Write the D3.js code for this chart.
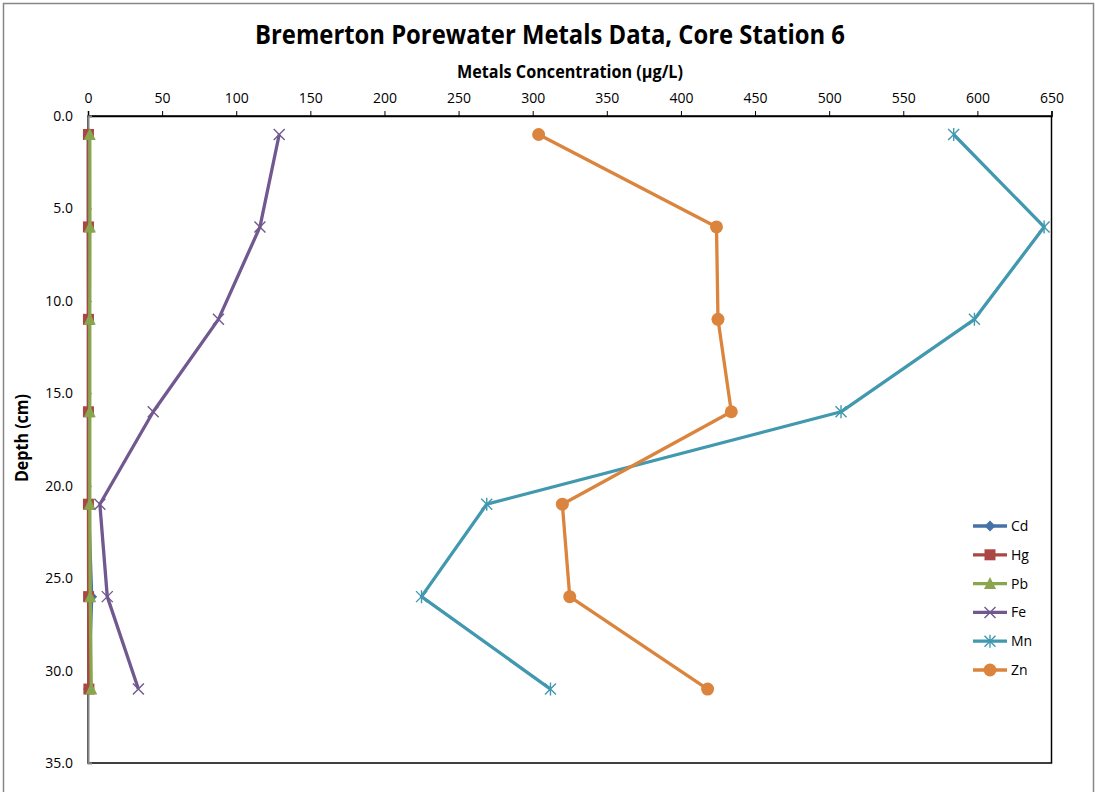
<!DOCTYPE html>
<html>
<head>
<meta charset="utf-8">
<script src="https://cdn.jsdelivr.net/npm/d3@7"></script>
<style>
  body { margin: 0; background: #fff; }
  text { font-family: "Open Sans", "DejaVu Sans", sans-serif; }
</style>
</head>
<body>
<div id="chart"></div>
<script>
// depths (cm) and metal concentrations (ug/L)
const depths = [1, 6, 11, 16, 21, 26, 31];
const cd = [0.2, 0.2, 0.3, 0.3, 0.3, 2.5, 0.4];
const hg = [0.3, 0.3, 0.3, 0.3, 0.3, 0.4, 0.6];
const pb = [1.2, 1.3, 1.2, 1.2, 1.2, 1.5, 2.2];
const fe = [129, 116, 88, 44, 8, 13, 34];
const mn = [584, 645, 598, 508, 269, 225, 312];
const zn = [304, 424, 425, 434, 320, 325, 418];

const xTicks = d3.range(0, 651, 50);
const yTicks = d3.range(0, 36, 5);

const series = [
  {name: "Cd", values: cd, color: "#4572A7", marker: "diamond"},
  {name: "Hg", values: hg, color: "#AA4643", marker: "square"},
  {name: "Pb", values: pb, color: "#89A54E", marker: "triangle"},
  {name: "Fe", values: fe, color: "#71588F", marker: "x"},
  {name: "Mn", values: mn, color: "#4198AF", marker: "star"},
  {name: "Zn", values: zn, color: "#DB843D", marker: "circle"}
];

const W = 1095, H = 792;
const plot = {left: 88, right: 1051.5, top: 116, bottom: 763};

const svg = d3.select("#chart")
  .append("svg")
    .attr("width", W)
    .attr("height", H);

// outer chart border
svg.append("rect")
  .attr("x", 3.5).attr("y", 3.5)
  .attr("width", 1090).attr("height", H + 10)
  .attr("fill", "none")
  .attr("stroke", "#868686")
  .attr("stroke-width", 1.5);

const x = d3.scaleLinear().domain([0, 650]).range([plot.left, plot.right]);
const y = d3.scaleLinear().domain([0, 35]).range([plot.top, plot.bottom]);

// plot area border
svg.append("rect")
  .attr("x", plot.left).attr("y", plot.top)
  .attr("width", plot.right - plot.left).attr("height", plot.bottom - plot.top)
  .attr("fill", "none")
  .attr("stroke", "#000")
  .attr("stroke-width", 1.5);

// x axis along the top
const xAxis = svg.append("g")
  .attr("transform", `translate(0, ${plot.top})`)
  .call(d3.axisTop(x).tickValues(xTicks).tickSize(5).tickPadding(8).tickFormat(d3.format("d")));
xAxis.select(".domain").attr("stroke", "#000").attr("stroke-width", 1.5);
xAxis.selectAll(".tick line").attr("stroke", "#000");
xAxis.selectAll("text").style("font-size", "14px").attr("fill", "#000");

// y axis
const yAxis = svg.append("g")
  .attr("transform", `translate(${plot.left}, 0)`)
  .call(d3.axisLeft(y).tickValues(yTicks).tickSize(-4).tickPadding(15).tickFormat(d3.format(".1f")));
yAxis.select(".domain").attr("stroke", "#868686").attr("stroke-width", 2);
yAxis.selectAll(".tick line").attr("stroke", "#868686");
yAxis.selectAll("text").style("font-size", "14px").attr("fill", "#000");

// titles
svg.append("text")
  .attr("x", 550).attr("y", 44)
  .attr("text-anchor", "middle")
  .attr("textLength", 590).attr("lengthAdjust", "spacingAndGlyphs")
  .style("font-size", "26px").style("font-weight", "bold")
  .text("Bremerton Porewater Metals Data, Core Station 6");

svg.append("text")
  .attr("x", 570).attr("y", 78)
  .attr("text-anchor", "middle")
  .attr("textLength", 226).attr("lengthAdjust", "spacingAndGlyphs")
  .style("font-size", "17px").style("font-weight", "bold")
  .text("Metals Concentration (µg/L)");

svg.append("text")
  .attr("transform", `translate(28, 438) rotate(-90)`)
  .attr("text-anchor", "middle")
  .attr("textLength", 88).attr("lengthAdjust", "spacingAndGlyphs")
  .style("font-size", "17px").style("font-weight", "bold")
  .text("Depth (cm)");

function drawMarker(g, type, color) {
  if (type === "diamond") {
    g.append("path").attr("d", "M0,-5.5L5.5,0L0,5.5L-5.5,0Z").attr("fill", color);
  } else if (type === "square") {
    g.append("rect").attr("x", -5.5).attr("y", -5.5).attr("width", 11).attr("height", 11).attr("fill", color);
  } else if (type === "triangle") {
    g.append("path").attr("d", "M0,-6.5L6,5.5L-6,5.5Z").attr("fill", color);
  } else if (type === "x") {
    g.append("path").attr("d", "M-5.5,-5.5L5.5,5.5M-5.5,5.5L5.5,-5.5").attr("stroke", color).attr("stroke-width", 1.4);
  } else if (type === "star") {
    g.append("path").attr("d", "M-5.5,-5.5L5.5,5.5M-5.5,5.5L5.5,-5.5M0,-6.5L0,6.5").attr("stroke", color).attr("stroke-width", 1.4);
  } else if (type === "circle") {
    g.append("circle").attr("r", 6.5).attr("fill", color);
  }
}

const line = d3.line()
  .x(d => x(d.v))
  .y(d => y(d.depth));

series.forEach(s => {
  const pts = depths.map((depth, i) => ({depth: depth, v: s.values[i]}));
  svg.append("path")
    .datum(pts)
    .attr("d", line)
    .attr("fill", "none")
    .attr("stroke", s.color)
    .attr("stroke-width", 3.3)
    .attr("stroke-linejoin", "round");
  pts.forEach(p => {
    const g = svg.append("g").attr("transform", `translate(${x(p.v)}, ${y(p.depth)})`);
    drawMarker(g, s.marker, s.color);
  });
});

// legend
const legend = svg.append("g").attr("transform", "translate(973, 526)");
series.forEach((s, i) => {
  const row = legend.append("g").attr("transform", `translate(0, ${i * 28.8})`);
  row.append("line").attr("x1", 0).attr("x2", 34).attr("y1", 0).attr("y2", 0)
    .attr("stroke", s.color).attr("stroke-width", 3.3);
  drawMarker(row.append("g").attr("transform", "translate(17, 0)"), s.marker, s.color);
  row.append("text").attr("x", 38).attr("y", 5)
    .style("font-size", "14px")
    .text(s.name);
});
</script>
</body>
</html>
